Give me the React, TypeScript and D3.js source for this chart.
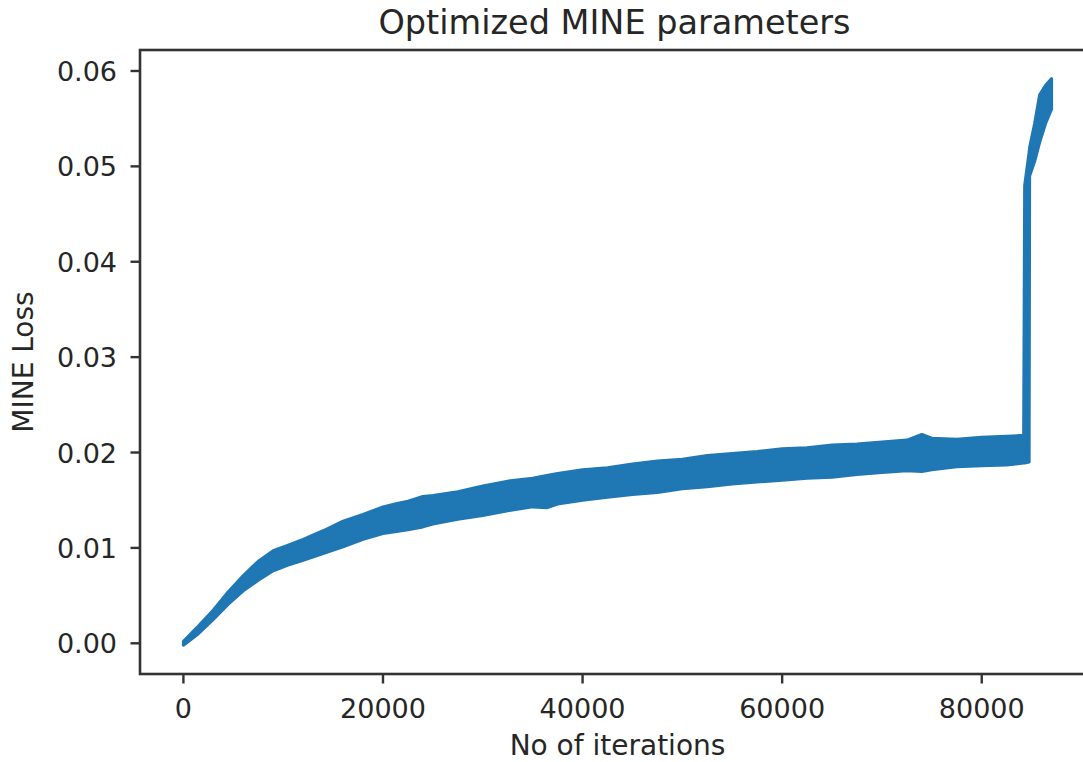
import React from 'react';
import * as d3 from 'd3';

// iteration checkpoints with the upper / lower edge of the noisy loss band
const iterations = [
  0, 1500, 3000, 4500, 6000, 7500, 9000, 10500, 12000, 14000, 16000, 18000,
  20000, 21200, 22500, 24000, 25000, 27500, 30000, 32500, 35000, 36400,
  37500, 40000, 42500, 45000, 47500, 50000, 52500, 55000, 57500, 60000,
  62500, 65000, 67500, 70000, 72500, 74000, 75000, 77500, 80000, 82500,
  84200, 84300, 84750, 84800, 85300, 85800, 86400, 87000
];
const lossUpper = [
  0.0002, 0.0018, 0.0035, 0.0054, 0.0071, 0.0086, 0.0097, 0.0103, 0.0109,
  0.0118, 0.0128, 0.0135, 0.0143, 0.0146, 0.0149, 0.0154, 0.0155, 0.0159,
  0.0165, 0.0170, 0.0173, 0.0176, 0.0178, 0.0182, 0.0184, 0.0188, 0.0191,
  0.0193, 0.0197, 0.0199, 0.0201, 0.0204, 0.0205, 0.0208, 0.0209, 0.0211,
  0.0213, 0.0219, 0.0215, 0.0214, 0.0216, 0.0217, 0.0218, 0.0480, 0.0515,
  0.0520, 0.0545, 0.0575, 0.0585, 0.0592
];
const lossLower = [
  -0.0002, 0.0010, 0.0025, 0.0041, 0.0055, 0.0066, 0.0076, 0.0082, 0.0087,
  0.0094, 0.0101, 0.0109, 0.0115, 0.0117, 0.0119, 0.0122, 0.0125, 0.0130,
  0.0134, 0.0139, 0.0143, 0.0142, 0.0146, 0.0150, 0.0153, 0.0156, 0.0158,
  0.0162, 0.0164, 0.0167, 0.0169, 0.0171, 0.0173, 0.0174, 0.0177, 0.0179,
  0.0181, 0.0180, 0.0182, 0.0185, 0.0186, 0.0187, 0.0189, 0.0189, 0.0190,
  0.0490, 0.0505, 0.0525, 0.0545, 0.0560
];

const xTicks = [0, 20000, 40000, 60000, 80000];
const yTicks = [0.0, 0.01, 0.02, 0.03, 0.04, 0.05, 0.06];

const W = 1083, H = 762;
const m = {left: 140, right: 1095, top: 50, bottom: 674};
const font = 'DejaVu Sans, sans-serif';
const ink = '#262626';
const blue = '#1f77b4';

export default function App() {
  let x = d3.scaleLinear().domain([-4350, 91350]).range([m.left, m.right]);
  let y = d3.scaleLinear().domain([-0.00322, 0.0622]).range([m.bottom, m.top]);

  let pts = iterations.map((it, i) => ({it, hi: lossUpper[i], lo: lossLower[i]}));

  let area = d3.area<any>()
               .x(d => x(d.it))
               .y0(d => y(d.lo))
               .y1(d => y(d.hi));

  return (
    <svg width={W} height={H} style={{position: 'absolute', left: 0, top: 0}}
         fontFamily={font}>
      <rect width={W} height={H} fill="#fff" />

      <text x={(m.left + m.right) / 2 - 3} y={34} textAnchor="middle"
            fontSize={33.5} fill={ink}>Optimized MINE parameters</text>

      {/* band */}
      <path d={area(pts) || ''} fill={blue} stroke={blue} strokeWidth={3}
            strokeLinejoin="round" />

      {/* spines */}
      <rect x={m.left} y={m.top} width={m.right - m.left} height={m.bottom - m.top}
            fill="none" stroke="#333" strokeWidth={2.6} />

      {/* x ticks */}
      {xTicks.map(t =>
        <g key={t}>
          <line x1={x(t)} x2={x(t)} y1={m.bottom} y2={m.bottom + 9.5}
                stroke="#333" strokeWidth={2.4} />
          <text x={x(t)} y={718} textAnchor="middle" fontSize={27} fill={ink}>{t}</text>
        </g>
      )}
      <text x={(m.left + m.right) / 2} y={755} textAnchor="middle"
            fontSize={28} fill={ink}>No of iterations</text>

      {/* y ticks */}
      {yTicks.map(t =>
        <g key={t}>
          <line x1={m.left - 9.5} x2={m.left} y1={y(t)} y2={y(t)}
                stroke="#333" strokeWidth={2.4} />
          <text x={117} y={y(t) + 10} textAnchor="end" fontSize={27} fill={ink}>{t.toFixed(2)}</text>
        </g>
      )}
      <text transform={`translate(33,${(m.top + m.bottom) / 2}) rotate(-90)`}
            textAnchor="middle" fontSize={28} fill={ink}>MINE Loss</text>
    </svg>
  );
}
